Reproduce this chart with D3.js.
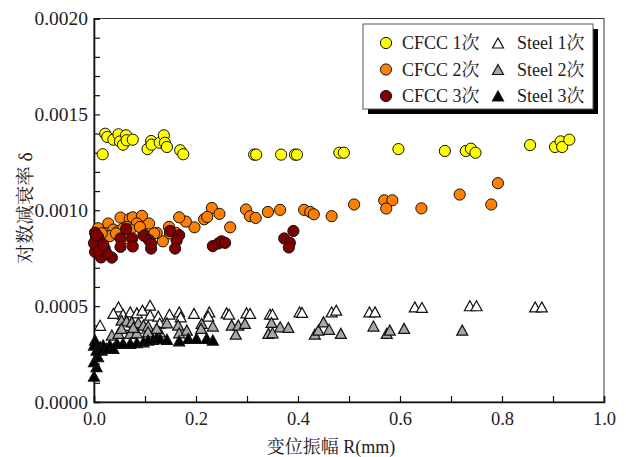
<!DOCTYPE html>
<html>
<head>
<meta charset="utf-8">
<script src="https://cdn.jsdelivr.net/npm/d3@7"></script>
<style>
  html, body { margin: 0; padding: 0; background: #fff; -webkit-font-smoothing: antialiased; }
  svg { display: block; }
  text { font-family: "Liberation Serif", "Times New Roman", "Noto Serif CJK SC", "Noto Sans CJK SC", serif; fill: #222; }
</style>
</head>
<body>
<svg id="chart" width="626" height="457"></svg>
<script>
// Logarithmic decrement vs. displacement amplitude, CFCC and steel, three runs each
const xTicks = [0, 0.2, 0.4, 0.6, 0.8, 1.0];
const yTicks = [0, 0.0005, 0.0010, 0.0015, 0.0020];

const cfcc1 = [
  [0.022,0.001399],[0.026,0.001382],[0.038,0.001368],[0.048,0.001396],[0.051,0.001359],
  [0.057,0.001342],[0.063,0.001391],[0.064,0.001365],[0.076,0.001368],[0.017,0.001292],
  [0.105,0.001319],[0.112,0.001361],[0.113,0.001342],[0.129,0.001352],[0.137,0.001391],
  [0.139,0.001352],[0.143,0.001330],[0.169,0.001313],[0.175,0.001292],[0.314,0.001290],
  [0.318,0.001290],[0.367,0.001290],[0.394,0.001290],[0.398,0.001290],[0.481,0.001300],
  [0.490,0.001300],[0.597,0.001319],[0.688,0.001309],[0.729,0.001309],[0.739,0.001321],
  [0.748,0.001300],[0.855,0.001340],[0.904,0.001330],[0.915,0.001359],[0.918,0.001330],
  [0.932,0.001368]
];
const cfcc2 = [
  [0.298,0.001004],[0.306,0.000969],[0.317,0.000960],[0.341,0.000991],[0.365,0.001002],
  [0.412,0.001002],[0.424,0.000991],[0.431,0.000979],[0.466,0.000969],[0.510,0.001030],
  [0.569,0.001052],[0.585,0.001052],[0.573,0.001009],[0.642,0.001010],[0.717,0.001082],
  [0.779,0.001030],[0.792,0.001141],[0.231,0.001012],[0.246,0.000981],[0.267,0.000911],
  [0.216,0.000953],[0.222,0.000965],[0.197,0.000911],[0.180,0.000941],[0.167,0.000963],
  [0.147,0.000913],[0.135,0.000838],[0.123,0.000882],[0.028,0.000931],[0.052,0.000962],
  [0.070,0.000956],[0.076,0.000963],[0.094,0.000971],[0.084,0.000931],[0.108,0.000931],
  [0.097,0.000875],[0.025,0.000879],[0.038,0.000899],[0.048,0.000892],[0.057,0.000905],
  [0.065,0.000913],[0.071,0.000899],[0.031,0.000865],[0.061,0.000853],[0.090,0.000913],
  [0.100,0.000870],[0.110,0.000861],[0.118,0.000879],[0.149,0.000879],[0.161,0.000882],
  [0.043,0.000879],[0.008,0.000906],[0.015,0.000880],[0.004,0.000860]
];
const cfcc3 = [
  [0.002,0.000883],[0.008,0.000861],[0.002,0.000835],[0.014,0.000830],[0.008,0.000809],
  [0.021,0.000800],[0.002,0.000783],[0.014,0.000754],[0.035,0.000753],[0.025,0.000774],
  [0.000,0.000828],[0.005,0.000870],[0.010,0.000790],[0.018,0.000820],[0.063,0.000902],
  [0.052,0.000853],[0.052,0.000809],[0.075,0.000853],[0.076,0.000811],[0.098,0.000867],
  [0.108,0.000844],[0.112,0.000800],[0.112,0.000827],[0.149,0.000892],[0.167,0.000870],
  [0.162,0.000842],[0.159,0.000800],[0.233,0.000813],[0.244,0.000827],[0.250,0.000838],
  [0.257,0.000830],[0.373,0.000853],[0.391,0.000892],[0.384,0.000830],[0.382,0.000806]
];
const steel1 = [
  [0.048,0.000496],[0.038,0.000462],[0.057,0.000458],[0.071,0.000470],[0.084,0.000465],
  [0.095,0.000479],[0.110,0.000505],[0.110,0.000453],[0.126,0.000448],[0.148,0.000458],
  [0.167,0.000470],[0.170,0.000444],[0.196,0.000462],[0.226,0.000470],[0.224,0.000448],
  [0.260,0.000465],[0.265,0.000458],[0.299,0.000465],[0.306,0.000462],[0.345,0.000458],
  [0.350,0.000458],[0.403,0.000470],[0.408,0.000467],[0.466,0.000470],[0.475,0.000479],
  [0.540,0.000470],[0.551,0.000470],[0.629,0.000496],[0.643,0.000493],[0.737,0.000502],
  [0.750,0.000502],[0.865,0.000496],[0.878,0.000496],[0.012,0.000400],[0.061,0.000400],
  [0.090,0.000385],[0.129,0.000411]
];
const steel2 = [
  [0.054,0.000427],[0.064,0.000423],[0.074,0.000418],[0.087,0.000413],[0.097,0.000401],
  [0.106,0.000396],[0.143,0.000413],[0.165,0.000401],[0.167,0.000361],[0.182,0.000375],
  [0.211,0.000410],[0.210,0.000384],[0.233,0.000396],[0.270,0.000401],[0.278,0.000354],
  [0.283,0.000401],[0.296,0.000410],[0.342,0.000358],[0.350,0.000361],[0.348,0.000415],
  [0.365,0.000392],[0.381,0.000389],[0.433,0.000354],[0.440,0.000375],[0.450,0.000418],
  [0.461,0.000379],[0.484,0.000358],[0.035,0.000349],[0.048,0.000358],[0.071,0.000358],
  [0.084,0.000361],[0.106,0.000366],[0.129,0.000366],[0.054,0.000384],[0.077,0.000389],
  [0.123,0.000384],[0.548,0.000396],[0.574,0.000358],[0.580,0.000375],[0.608,0.000384],
  [0.722,0.000375]
];
const steel3 = [
  [0.002,0.000323],[0.000,0.000297],[0.005,0.000271],[0.008,0.000236],[0.005,0.000184],
  [0.000,0.000135],[0.000,0.000210],[0.012,0.000288],[0.018,0.000297],[0.031,0.000297],
  [0.045,0.000306],[0.057,0.000306],[0.071,0.000306],[0.084,0.000309],[0.097,0.000314],
  [0.106,0.000323],[0.116,0.000327],[0.123,0.000332],[0.129,0.000332],[0.143,0.000327],
  [0.167,0.000319],[0.185,0.000332],[0.201,0.000332],[0.221,0.000332],[0.233,0.000323],
  [0.015,0.000271],[0.025,0.000280],[0.038,0.000280]
];

const seriesNames = ["CFCC 1次", "CFCC 2次", "CFCC 3次", "Steel 1次", "Steel 2次", "Steel 3次"];

const series = [
  { name: seriesNames[0], data: cfcc1, shape: "circle", fill: "#ffff00" },
  { name: seriesNames[1], data: cfcc2, shape: "circle", fill: "#ff8000" },
  { name: seriesNames[2], data: cfcc3, shape: "circle", fill: "#800000" },
  { name: seriesNames[3], data: steel1, shape: "triangle", fill: "#ffffff" },
  { name: seriesNames[4], data: steel2, shape: "triangle", fill: "#a8a8a8" },
  { name: seriesNames[5], data: steel3, shape: "triangle", fill: "#000000" }
];

const svg = d3.select("#chart");
const margin = { left: 94, right: 22, top: 18.5, bottom: 55 };
const W = 626, H = 457;
const x = d3.scaleLinear().domain([0, 1]).range([margin.left, W - margin.right]);
const y = d3.scaleLinear().domain([0, 0.002]).range([H - margin.bottom, margin.top]);

// triangle path centred on its bounding-box middle
function triPath(cx, cy) {
  const w = 11, h = 10;
  return `M${cx},${cy - h / 2}L${cx + w / 2},${cy + h / 2}L${cx - w / 2},${cy + h / 2}Z`;
}

// frame
svg.append("rect")
  .attr("x", x(0)).attr("y", y(0.002))
  .attr("width", x(1) - x(0)).attr("height", y(0) - y(0.002))
  .attr("fill", "none").attr("stroke", "#333").attr("stroke-width", 1);

// bottom axis with inward ticks
const xAxis = d3.axisBottom(x).tickValues(d3.range(0, 1.0001, 0.1))
  .tickSize(-6).tickPadding(10)
  .tickFormat(d => xTicks.some(t => Math.abs(t - d) < 1e-9) ? d3.format(".1f")(d) : "");
const gx = svg.append("g").attr("transform", `translate(0,${y(0)})`).call(xAxis);
gx.select(".domain").attr("stroke", "#111").attr("stroke-width", 1.6);
gx.selectAll(".tick line").attr("stroke", "#111").attr("stroke-width", 1.2);
gx.selectAll(".tick text").attr("font-size", 18.5).attr("fill", "#222")
  .style("font-family", '"Liberation Serif", serif');

// left axis with inward ticks
const yAxis = d3.axisLeft(y).tickValues(d3.range(0, 0.00201, 0.0001))
  .tickSize(-6).tickPadding(6)
  .tickFormat(d => yTicks.some(t => Math.abs(t - d) < 1e-9) ? d3.format(".4f")(d) : "");
const gy = svg.append("g").attr("transform", `translate(${x(0)},0)`).call(yAxis);
gy.select(".domain").attr("stroke", "#111").attr("stroke-width", 1.6);
gy.selectAll(".tick line").attr("stroke", "#111").attr("stroke-width", 1.2);
gy.selectAll(".tick text").attr("font-size", 19.5).attr("fill", "#222")
  .style("font-family", '"Liberation Serif", serif');

// axis titles
svg.append("text")
  .attr("x", 331).attr("y", 453)
  .attr("text-anchor", "middle").attr("font-size", 18).attr("fill", "#222")
  .text("变位振幅 R(mm)");
svg.append("text")
  .attr("transform", `translate(32,208) rotate(-90)`)
  .attr("text-anchor", "middle").attr("font-size", 19.5).attr("fill", "#222")
  .style("text-rendering", "geometricPrecision")
  .text("对数减衰率 δ");

// markers
const plot = svg.append("g");
series.forEach(s => {
  const g = plot.append("g");
  if (s.shape === "circle") {
    g.selectAll("circle").data(s.data).join("circle")
      .attr("cx", d => x(d[0])).attr("cy", d => y(d[1])).attr("r", 5.6)
      .attr("fill", s.fill).attr("stroke", "#111").attr("stroke-width", 1);
  } else {
    g.selectAll("path").data(s.data).join("path")
      .attr("d", d => triPath(x(d[0]), y(d[1])))
      .attr("fill", s.fill).attr("stroke", "#111").attr("stroke-width", 1.2)
      .attr("stroke-linejoin", "miter");
  }
});

// legend
const lg = svg.append("g");
const lx = 363, ly = 24, lw = 230, lh = 85;
lg.append("rect").attr("x", lx + 5).attr("y", ly + 5).attr("width", lw).attr("height", lh).attr("fill", "#000");
lg.append("rect").attr("x", lx).attr("y", ly).attr("width", lw).attr("height", lh)
  .attr("fill", "#fff").attr("stroke", "#555").attr("stroke-width", 1);
const rowY = [43, 69.5, 96];
series.forEach((s, i) => {
  const col = i < 3 ? 0 : 1;
  const ry = rowY[i % 3];
  const mx = col === 0 ? 386 : 498;
  const tx = col === 0 ? 402 : 517;
  if (s.shape === "circle") {
    lg.append("circle").attr("cx", mx).attr("cy", ry).attr("r", 5.6)
      .attr("fill", s.fill).attr("stroke", "#111").attr("stroke-width", 1);
  } else {
    lg.append("path").attr("d", triPath(mx, ry))
      .attr("fill", s.fill).attr("stroke", "#111").attr("stroke-width", 1.2);
  }
  lg.append("text").attr("x", tx).attr("y", ry + 6).attr("font-size", 18).attr("fill", "#222").text(s.name);
});
</script>
</body>
</html>
